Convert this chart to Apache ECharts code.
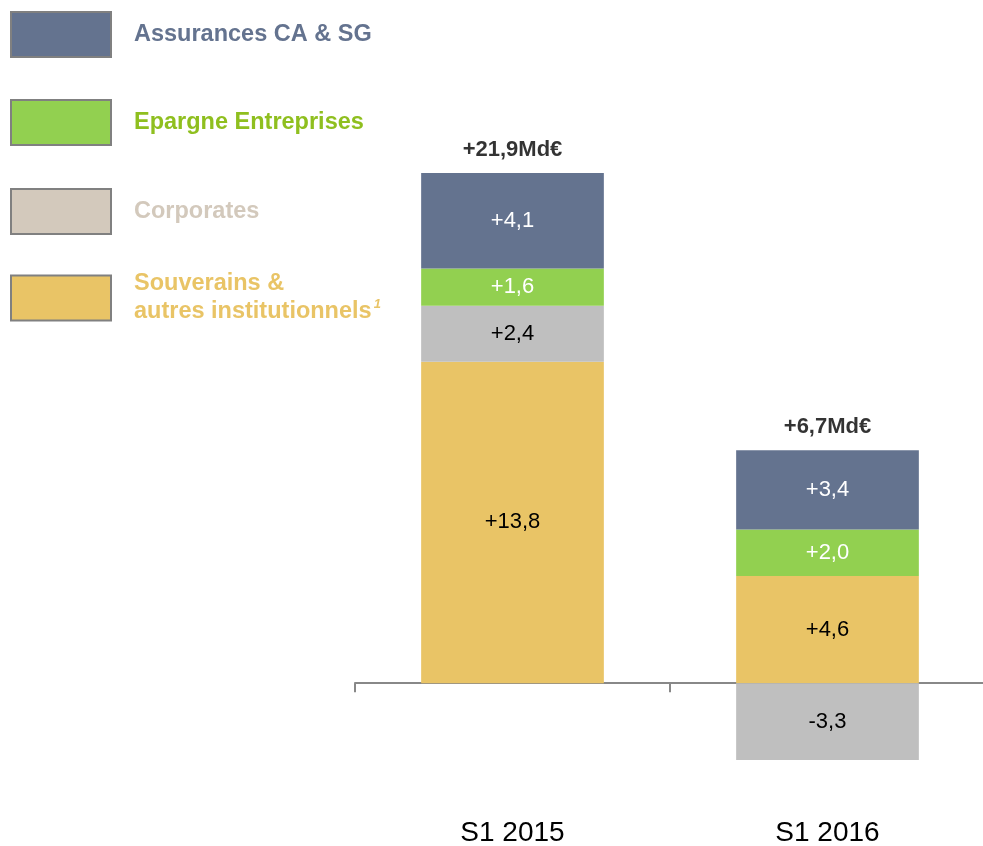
<!DOCTYPE html>
<html>
<head>
<meta charset="utf-8">
<title></title>
<script src="https://cdn.jsdelivr.net/npm/echarts@6/dist/echarts.min.js"></script>
<style>html,body{margin:0;padding:0;background:#fff;}</style>
</head>
<body>
<div id="main" style="width:983px;height:846px;"></div>
<script>
// données (Md€)
var categories = ['S1 2015', 'S1 2016'];
var souverains = [13.8, 4.6];
var corporates = [2.4, -3.3];
var epargne = [1.6, 2.0];
var assurances = [4.1, 3.4];
var totals = [21.9, 6.7];

var FONT = 'Liberation Sans, Arial, sans-serif';

function fmt(v) {
	return (v > 0 ? '+' : '') + v.toFixed(1).replace('.', ',');
}

// sommet de la pile positive, pour placer le total
var topOfStack = categories.map(function (c, i) {
	var s = 0;
	[souverains, corporates, epargne, assurances].forEach(function (arr) {
		if (arr[i] > 0) s += arr[i];
	});
	return s;
});

function barSeries(name, data, color, labelColor) {
	return {
		name: name,
		type: 'bar',
		stack: 'total',
		barWidth: '58%',
		data: data,
		itemStyle: { color: color },
		label: {
			show: true,
			position: 'inside',
			color: labelColor,
			fontSize: 22,
			fontFamily: FONT,
			formatter: function (p) { return fmt(p.value); }
		}
	};
}

function legendItem(name, top, textColor, iconColor, formatter) {
	var d = { name: name };
	if (iconColor) d.itemStyle = { color: iconColor, borderColor: '#808080', borderWidth: 2 };
	return {
		left: 10,
		top: top,
		padding: 0,
		orient: 'vertical',
		itemWidth: 100,
		itemHeight: 45,
		icon: 'rect',
		itemStyle: { borderColor: '#808080', borderWidth: 2 },
		data: [d],
		formatter: formatter || '{name}',
		textStyle: {
			color: textColor,
			fontSize: 23.5,
			fontWeight: 'bold',
			fontFamily: FONT,
			lineHeight: 28,
			padding: [0, 0, 0, 18],
			rich: {
				sup: { fontSize: 13, fontStyle: 'italic', fontWeight: 'bold', color: textColor, verticalAlign: 'top', lineHeight: 28, padding: [0, 0, 10, 2] }
			}
		}
	};
}

var myChart = echarts.init(document.getElementById('main'));
var option = {
	animation: false,
	legend: [
		legendItem('Assurances CA & SG', 11, '#64738f'),
		legendItem('Epargne Entreprises', 99, '#8fbf1f'),
		legendItem('Corporates', 188, '#d3c9bc', '#d3c9bc'),
		legendItem('Souverains & autres institutionnels', 270, '#e9c466', null, function () {
			return 'Souverains &\nautres institutionnels{sup|1}';
		})
	],
	grid: { left: 355, width: 630, top: 124, bottom: 23, outerBoundsMode: 'none', containLabel: false },
	xAxis: {
		type: 'category',
		data: categories,
		axisLine: { onZero: true, lineStyle: { color: '#888888', width: 2 } },
		axisTick: { show: true, length: 9, lineStyle: { color: '#888888', width: 2 } },
		axisLabel: {
			margin: 10,
			verticalAlign: 'middle',
			color: '#000',
			fontSize: 28,
			fontFamily: FONT
		}
	},
	yAxis: {
		type: 'value',
		min: -6,
		max: 24,
		show: false,
		splitLine: { show: false }
	},
	series: [
		barSeries('Souverains & autres institutionnels', souverains, '#e9c466', '#000'),
		barSeries('Corporates', corporates, '#bfbfbf', '#000'),
		barSeries('Epargne Entreprises', epargne, '#92d050', '#fff'),
		barSeries('Assurances CA & SG', assurances, '#64738f', '#fff'),
		{
			name: 'Total',
			type: 'scatter',
			data: topOfStack,
			symbolSize: 0,
			silent: true,
			label: {
				show: true,
				position: 'top',
				distance: 12,
				color: '#000',
				fontSize: 22,
				fontWeight: 'bold',
				fontFamily: FONT,
				formatter: function (p) { return '+' + totals[p.dataIndex].toFixed(1).replace('.', ',') + 'Md€'; }
			}
		}
	]
};
myChart.setOption(option);
</script>
</body>
</html>
